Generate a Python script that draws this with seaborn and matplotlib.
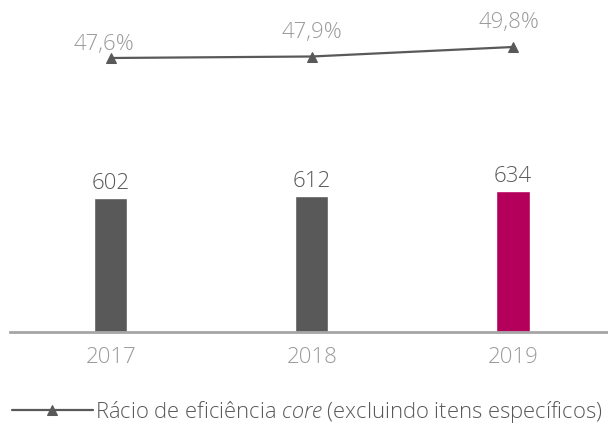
import numpy as np
import pandas as pd
import matplotlib
matplotlib.use("Agg")
import matplotlib.pyplot as plt
import seaborn as sns

years = ["2017", "2018", "2019"]
costs = [602, 612, 634]
ratio = [47.6, 47.9, 49.8]
ratio_labels = ["47,6%", "47,9%", "49,8%"]
legend_label = "Rácio de eficiência $\\it{core}$ (excluindo itens específicos)"

GREY = "#595959"
LIGHT = "#9A9A9A"
MAGENTA = "#B5005B"

sns.set_theme(style="white")
plt.rcParams["font.family"] = ["Open Sans", "DejaVu Sans"]
plt.rcParams["font.weight"] = "light"
plt.rcParams["mathtext.fontset"] = "custom"
plt.rcParams["mathtext.it"] = "Open Sans:italic:light"
plt.rcParams["mathtext.rm"] = "Open Sans:light"

fig = plt.figure(figsize=(6.08, 4.26), dpi=100)
ax = fig.add_axes([10 / 608, 94 / 426, 598 / 608, 332 / 426])

df = pd.DataFrame({"year": years, "cost": costs})
sns.barplot(data=df, x="year", y="cost", hue="year", saturation=1,
            palette=[GREY, GREY, MAGENTA], width=0.165, legend=False, ax=ax)
ax.set_xlim(-0.502, 2.473)
ax.set_ylim(0, 1491)
for i, v in enumerate(costs):
    ax.annotate(str(v), (i, v), xytext=(0, 4), textcoords="offset pixels",
                ha="center", va="bottom", fontsize=16, color=GREY)

ax.set_xlabel("")
ax.set_ylabel("")
ax.set_yticks([])
ax.tick_params(axis="x", length=0, labelsize=16, labelcolor=LIGHT, pad=11)
for s in ["top", "right", "left"]:
    ax.spines[s].set_visible(False)
ax.spines["bottom"].set_color("#A6A6A6")
ax.spines["bottom"].set_linewidth(2)

ax2 = ax.twinx()
x_pos = np.arange(len(years))
sns.lineplot(x=x_pos, y=ratio, ax=ax2, color=GREY, linewidth=1.6,
             marker="^", markersize=7, markeredgecolor=GREY, label=legend_label)
ax2.set_ylim(-7.2, 59.2)
ax2.set_yticks([])
ax2.set_ylabel("")
for s in ["top", "right", "left", "bottom"]:
    ax2.spines[s].set_visible(False)

offsets = [(-7, 3), (0, 14), (-4, 14)]
for i, (v, lab) in enumerate(zip(ratio, ratio_labels)):
    ax2.annotate(lab, (i, v), xytext=offsets[i], textcoords="offset pixels",
                 ha="center", va="bottom", fontsize=16, color=LIGHT)

ax2.legend(loc="center left", bbox_to_anchor=(-0.012, -0.24), frameon=False,
           fontsize=15.8, handlelength=3.7, handletextpad=0.1,
           labelcolor=GREY, borderaxespad=0)

fig.savefig("out.png", dpi=100)
